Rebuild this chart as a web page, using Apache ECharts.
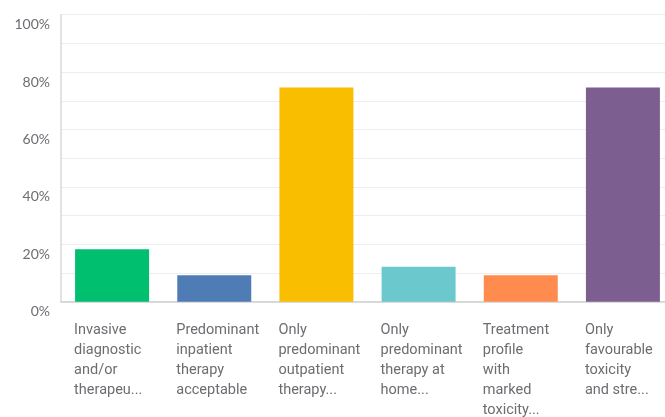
<!DOCTYPE html>
<html><head><meta charset="utf-8">
<script src="https://cdn.jsdelivr.net/npm/echarts@6/dist/echarts.min.js"></script>
<style>html,body{margin:0;padding:0;background:#fff;overflow:hidden}#c{width:680px;height:417px}</style>
</head><body><div id="c"></div>
<script>
const categories = [
  "Invasive\ndiagnostic\nand/or\ntherapeu...",
  "Predominant\ninpatient\ntherapy\nacceptable",
  "Only\npredominant\noutpatient\ntherapy...",
  "Only\npredominant\ntherapy at\nhome...",
  "Treatment\nprofile\nwith\nmarked\ntoxicity...",
  "Only\nfavourable\ntoxicity\nand stre..."
];
const values = [18.3, 9.2, 74.6, 12.2, 9.2, 74.6];
const colors = ["#00BF6F", "#507CB6", "#F9BE00", "#6BC8CD", "#FF8B4F", "#7D5E90"];
const yTicks = [0, 20, 40, 60, 80, 100];

const chart = echarts.init(document.getElementById('c'), null, {renderer: 'canvas'});
chart.setOption({
  animation: false,
  grid: {left: 61, top: 14.7, width: 613, height: 287, outerBoundsMode: 'none', containLabel: false},
  xAxis: {
    type: 'category',
    data: categories,
    axisLine: {lineStyle: {color: '#d0d0d0', width: 1.5}},
    axisTick: {show: false},
    axisLabel: {
      interval: 0, align: 'left', verticalAlign: 'top', margin: 19,
      padding: [0, 0, 0, -38],
      color: '#6b6d71', fontSize: 14.5, lineHeight: 20,
      fontFamily: 'Roboto'
    }
  },
  yAxis: {
    type: 'value', min: 0, max: 100, interval: 10,
    axisLine: {show: true, lineStyle: {color: '#d8d8d8', width: 1.5}},
    axisTick: {show: false},
    splitLine: {lineStyle: {color: '#eeeeee', width: 1}},
    axisLabel: {
      verticalAlign: 'top', margin: 11, color: '#6b6d71', fontSize: 14,
      fontFamily: 'Lato', padding: [3, 0, 0, 0],
      formatter: v => yTicks.includes(v) ? v + '%' : ''
    }
  },
  series: [{
    type: 'bar',
    barWidth: 74,
    data: values.map((v, i) => ({value: v, itemStyle: {color: colors[i]}}))
  }]
});
</script></body></html>
